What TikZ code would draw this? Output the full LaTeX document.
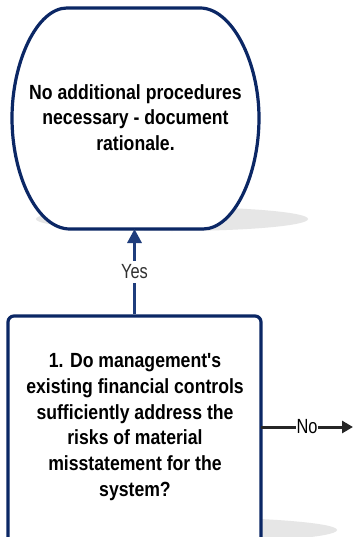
\documentclass[tikz,border=0pt]{standalone}
\usepackage{fontspec}
\usetikzlibrary{arrows.meta}
\newfontfamily\mainf[FakeStretch=0.86]{Liberation Sans}
\newfontfamily\labf[FakeStretch=0.8]{Liberation Sans}
\definecolor{navy}{HTML}{0B2765}
\definecolor{arrowblue}{HTML}{1F3D7C}
\definecolor{shadowgray}{HTML}{E6E6E6}
\definecolor{darkline}{HTML}{262626}
\definecolor{labgray}{HTML}{303030}
\tikzset{
  bodytext/.style={align=center, inner sep=0pt, font=\mainf\bfseries\fontsize{20.5}{25.7}\selectfont},
  outline/.style={draw=navy, line width=3.2pt, fill=white},
  qbox/.style={outline, rounded corners=6pt, inner sep=0pt},
  shadowfill/.style={fill=shadowgray},
  yesline/.style={draw=arrowblue, line width=3.2pt, -{Triangle[length=14pt,width=14pt]}},
  noline/.style={draw=darkline, line width=3pt, -{Triangle[length=11pt,width=12pt]}},
  conlabel/.style={fill=white, font=\labf\fontsize{20.5}{22}\selectfont},
}
\begin{document}
\begin{tikzpicture}[x=1pt,y=-1pt]
\useasboundingbox (0,0) rectangle (353,537);
\fill[white] (0,0) rectangle (353,537);
% shadows
\fill[shadowfill] (172,219) ellipse [x radius=136, y radius=12];
\fill[shadowfill] (172,530) ellipse [x radius=165, y radius=13];
% terminator
\draw[outline] (67,8) -- (200,8)
  .. controls (232,8) and (259,62) .. (259,118)
  .. controls (259,175) and (234,229) .. (203,229) -- (70,229)
  .. controls (37,229) and (12,175) .. (12,118)
  .. controls (12,62) and (37,8) .. (67,8) -- cycle;
\node[bodytext] (term) at (135.5,117.5) {No additional procedures\\necessary - document\\rationale.};
\coordinate (termbottom) at (134.5,229);
% question box
\node[qbox, minimum width=253pt, minimum height=250pt] (q) at (134.5,441) {};
\node[bodytext] (qtext) at (135,427) {1. Do management's\\existing financial controls\\sufficiently address the\\risks of material\\misstatement for the\\system?};
\coordinate (qno) at (261,427);
\coordinate (noend) at (353,427);
% connectors
\draw[yesline] (q.north) -- node[conlabel, text=labgray, inner xsep=1pt, inner ysep=4pt] {Yes} (termbottom);
\draw[noline] (qno) -- node[conlabel, text=black, inner xsep=0.5pt, inner ysep=1pt] {No} (noend);
\end{tikzpicture}
\end{document}
